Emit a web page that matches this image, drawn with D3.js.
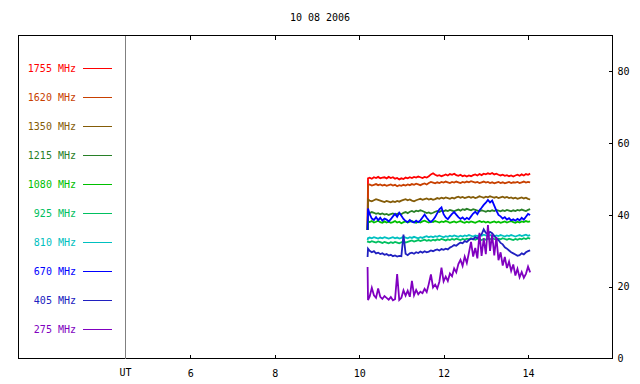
<!DOCTYPE html>
<html>
<head>
<meta charset="utf-8">
<script src="https://cdn.jsdelivr.net/npm/d3@7"></script>
<style>
    body { margin: 0; background: #fff; }
    text { font-family: "DejaVu Sans Mono", "Liberation Mono", monospace; font-size: 10px; }
</style>
</head>
<body>
<svg id="chart" width="640" height="384"></svg>
<script>
/*
    Title and channel names
 */
var title = "10 08 2006";
var channels = ["1755 MHz", "1620 MHz", "1350 MHz", "1215 MHz", "1080 MHz",
                "925 MHz", "810 MHz", "670 MHz", "405 MHz", "275 MHz"];

var hourTicks = [6, 8, 10, 12, 14];
var fluxTicks = [0, 20, 40, 60, 80];

/*
    Sample times (UT hours)
 */
var times = [10.20, 10.21,
    10.25,10.30,10.35,10.40,10.45,10.50,10.55,10.60,10.65,10.70,
    10.75,10.80,10.85,10.90,10.95,11.00,11.05,11.10,11.15,11.20,
    11.25,11.30,11.35,11.40,11.45,11.50,11.55,11.60,11.65,11.70,
    11.75,11.80,11.85,11.90,11.95,12.00,12.05,12.10,12.15,12.20,
    12.25,12.30,12.35,12.40,12.45,12.50,12.55,12.60,12.65,12.70,
    12.75,12.80,12.85,12.90,12.95,13.00,13.05,13.10,13.15,13.20,
    13.25,13.30,13.35,13.40,13.45,13.50,13.55,13.60,13.65,13.70,
    13.75,13.80,13.85,13.90,13.95,14.00,14.05];

/*
    Flux values, one list per channel
 */
var f1755 = [35.8, 50.2,
    50.4,50.1,50.5,50.3,50.6,50.2,50.4,50.5,50.2,50.6,
    50.3,50.5,50.1,50.3,49.9,50.2,50.0,50.4,50.2,50.5,
    50.3,50.6,50.4,50.7,50.5,50.3,50.6,50.4,50.8,51.3,
    51.6,51.2,50.9,51.1,50.8,51.0,51.3,51.0,51.4,51.2,
    51.5,51.1,50.9,51.2,50.8,51.0,50.7,51.0,50.8,51.1,
    51.3,51.0,51.4,51.1,51.5,51.3,51.6,51.4,51.7,51.3,
    51.5,51.2,51.0,51.2,50.9,51.1,50.8,51.0,50.7,51.0,
    51.2,50.9,51.3,51.0,51.4,51.2,51.5];

var f1620 = [35.8, 48.3,
    48.5,48.2,48.4,48.6,48.3,48.5,48.2,48.4,48.1,48.3,
    48.5,48.2,48.4,48.0,48.3,48.1,48.4,48.2,48.5,48.3,
    48.6,48.4,48.7,48.5,48.3,48.6,48.8,48.5,48.9,49.2,
    49.0,48.8,49.1,48.9,49.2,49.0,49.3,49.1,48.9,49.2,
    49.0,49.3,49.1,48.9,49.2,49.0,49.3,49.1,49.4,49.2,
    49.0,49.2,48.9,49.1,49.3,49.0,49.2,48.9,49.1,48.8,
    49.0,49.2,48.9,49.1,48.8,49.0,49.2,48.9,49.1,49.0,
    49.2,48.9,49.1,49.3,49.0,49.2,49.1];

var f1350 = [35.8, 44.3,
    44.0,43.8,44.1,44.4,44.2,44.0,43.8,43.6,43.9,43.7,
    43.5,43.8,43.6,43.9,43.7,44.0,44.2,44.4,44.1,44.3,
    44.0,43.8,44.1,44.3,44.5,44.2,44.4,44.6,44.3,44.5,
    44.2,44.4,44.7,44.5,44.8,44.6,44.9,44.7,44.5,44.8,
    44.6,44.9,45.1,44.8,45.0,44.7,44.9,45.1,44.8,45.0,
    44.7,44.9,45.2,45.0,44.8,45.1,44.9,45.2,45.0,44.8,
    45.0,44.7,44.9,45.1,44.8,45.0,44.7,44.9,44.6,44.8,
    44.5,44.7,44.9,44.6,44.8,44.5,44.3];

var f1215 = [35.8, 40.7,
    40.5,40.8,40.6,40.3,40.5,40.2,40.4,40.1,40.3,40.0,
    40.2,40.4,40.1,40.3,40.5,40.2,40.6,40.8,40.5,40.9,
    41.1,40.8,41.2,41.0,41.3,41.1,40.8,40.5,40.7,40.4,
    40.6,40.9,41.1,40.8,41.2,41.0,41.3,41.1,41.4,41.2,
    41.0,41.3,41.5,41.2,41.6,41.4,41.7,41.5,41.3,41.6,
    41.4,41.2,41.0,41.3,41.1,40.9,41.2,41.0,41.3,41.1,
    41.4,41.2,41.0,41.3,41.1,41.4,41.2,41.0,41.3,41.1,
    41.4,41.2,41.5,41.3,41.1,41.4,41.6];

var f1080 = [35.8, 38.2,
    38.0,38.3,37.9,38.1,38.4,38.0,37.8,38.2,37.9,38.1,
    37.8,38.0,38.3,37.9,38.1,37.7,38.0,38.2,37.9,38.1,
    38.3,38.0,37.8,38.1,37.9,38.2,38.4,38.1,37.9,38.2,
    38.0,38.3,38.1,37.9,38.2,38.0,38.3,38.1,37.8,38.0,
    38.2,37.9,38.1,38.3,38.0,37.8,38.1,37.9,38.2,38.0,
    37.8,38.1,38.3,38.0,38.2,37.9,38.1,37.8,38.0,38.2,
    37.9,38.1,37.8,38.0,38.2,37.9,38.1,38.3,38.0,37.8,
    38.1,37.9,38.2,38.0,38.3,38.1,38.2];

var f925 = [32.3, 32.6,
    32.4,32.7,32.5,32.3,32.6,32.4,32.2,32.5,32.3,32.1,
    32.4,32.2,32.5,32.3,32.1,32.4,32.6,32.3,32.5,32.7,
    32.9,32.6,32.8,33.0,32.7,32.9,33.1,32.8,33.0,32.8,
    33.1,32.9,33.2,33.0,33.3,33.1,32.9,33.2,33.0,33.3,
    33.1,33.4,33.2,33.0,33.3,33.1,33.4,33.2,33.5,33.3,
    33.1,33.4,33.2,33.0,33.3,33.1,33.4,33.2,33.5,33.3,
    33.1,33.4,33.2,33.5,33.3,33.1,33.4,33.2,33.0,33.3,
    33.1,33.4,33.2,33.5,33.3,33.6,33.4];

var f810 = [33.0, 33.5,
    33.7,33.5,33.8,33.6,33.4,33.7,33.5,33.8,33.6,33.4,
    33.6,33.8,33.5,33.7,33.4,33.6,33.9,33.7,33.5,33.8,
    33.6,33.9,33.7,33.5,33.8,33.6,33.9,34.1,33.8,34.0,
    33.8,34.1,33.9,34.2,34.0,33.8,34.1,33.9,34.2,34.0,
    34.3,34.1,33.9,34.2,34.0,34.3,34.1,34.4,34.2,34.0,
    34.3,34.1,34.4,34.2,34.5,34.3,34.1,34.4,34.2,34.0,
    34.3,34.1,34.4,34.2,34.0,34.3,34.1,34.4,34.2,34.0,
    34.2,34.4,34.1,34.3,34.5,34.2,34.4];

var f670 = [35.8, 41.8,
    40.2,39.0,38.6,39.4,38.5,39.2,38.4,39.0,38.7,38.2,
    38.8,39.6,40.3,39.5,40.6,39.8,38.9,38.3,38.0,38.6,
    38.1,37.9,38.4,38.0,38.5,39.3,40.1,39.2,38.5,38.0,
    38.6,39.4,40.5,41.6,42.1,40.2,39.3,38.8,39.6,40.3,
    40.8,40.1,39.4,38.9,39.3,38.7,39.2,38.8,39.6,40.4,
    40.9,40.2,41.3,42.0,42.8,43.4,44.2,43.5,44.0,42.6,
    41.2,40.0,39.6,39.0,39.4,38.7,39.1,38.5,38.8,38.4,
    38.9,38.5,39.2,38.7,39.5,40.3,40.0];

var f405 = [28.3, 30.6,
    30.0,29.6,29.9,29.3,29.5,29.1,29.3,28.9,29.1,28.7,
    28.9,28.5,28.7,28.4,28.6,28.5,34.5,29.2,28.8,29.3,
    29.5,29.2,29.6,29.4,29.8,29.5,29.9,29.6,29.8,30.1,
    29.9,30.2,30.4,30.1,30.5,30.3,30.6,30.4,30.9,31.2,
    31.6,31.4,31.9,32.3,32.1,32.7,32.5,33.0,33.4,33.2,
    33.8,33.5,34.1,34.6,36.0,35.0,34.7,35.3,34.9,34.2,
    33.5,33.0,32.2,31.8,31.0,30.6,30.1,29.6,29.3,29.0,
    28.6,28.8,29.3,29.0,29.6,29.9,30.1];

var f275 = [25.5, 16.3,
    17.3,19.7,17.6,16.9,19.5,17.2,16.6,17.4,16.9,16.4,
    17.1,16.2,16.5,23.5,16.3,16.9,19.0,17.5,18.9,17.2,
    21.6,17.6,19.1,17.9,18.6,18.2,19.4,18.5,20.8,23.4,
    19.8,20.6,19.5,21.4,25.3,21.5,22.8,21.6,23.7,22.9,
    25.1,24.0,26.3,27.5,25.8,28.4,26.6,29.5,32.5,28.4,
    30.8,27.9,35.0,28.6,33.5,29.1,37.2,30.0,34.6,28.7,
    33.8,27.4,29.6,25.9,28.3,25.2,27.0,24.4,26.2,23.1,
    25.0,22.6,24.1,22.5,23.6,25.6,24.0];

var fluxes = [f1755, f1620, f1350, f1215, f1080, f925, f810, f670, f405, f275];

var colors = ["#ff0000", "#c84000", "#845c08", "#288028", "#00c000",
              "#00c060", "#00c0c0", "#0000ff", "#2020c0", "#8000c0"];

var svg = d3.select("#chart");

var plotLeft = 18.5, plotRight = 612.5, plotTop = 35.5, plotBottom = 358.5;

var x = d3.scaleLinear().domain([1.933, 16]).range([plotLeft, plotRight]);
var y = d3.scaleLinear().domain([0, 90]).range([plotBottom, plotTop]);

/*
    Title
 */
svg.append("text")
    .attr("x", 320)
    .attr("y", 21)
    .attr("text-anchor", "middle")
    .text(title);

/*
    Frame
 */
svg.append("rect")
    .attr("x", plotLeft)
    .attr("y", plotTop)
    .attr("width", plotRight - plotLeft)
    .attr("height", plotBottom - plotTop)
    .attr("fill", "none")
    .attr("stroke", "#000");

/*
    Separator between legend and plot, with the UT label
 */
var utHour = 4.47;
svg.append("line")
    .attr("x1", x(utHour)).attr("x2", x(utHour))
    .attr("y1", plotTop).attr("y2", plotBottom)
    .attr("stroke", "#808080")
    .attr("shape-rendering", "crispEdges");

svg.append("text")
    .attr("x", x(utHour))
    .attr("y", 376)
    .attr("text-anchor", "middle")
    .text("UT");

/*
    Axes: ticks point into the frame
 */
var styleAxis = function (g) {
    g.select(".domain").remove();
    g.selectAll("line").attr("stroke", "#000").attr("shape-rendering", "crispEdges");
    g.selectAll("text").attr("fill", "#000").style("font-size", "10px")
        .style("font-family", "\"DejaVu Sans Mono\", monospace");
};

svg.append("g")
    .attr("transform", "translate(0," + plotBottom + ")")
    .call(d3.axisBottom(x).tickValues(hourTicks).tickSize(-4).tickPadding(11))
    .call(styleAxis);

svg.append("g")
    .attr("transform", "translate(0," + plotTop + ")")
    .call(d3.axisTop(x).tickValues(hourTicks).tickSize(-4).tickFormat(""))
    .call(styleAxis);

svg.append("g")
    .attr("transform", "translate(" + plotRight + ",0)")
    .call(d3.axisRight(y).tickValues(fluxTicks).tickSize(-4).tickPadding(5))
    .call(styleAxis)
    .selectAll(".tick line")
    .attr("display", function (d) { return d === 0 ? "none" : null; });

/*
    Legend
 */
var legend = svg.selectAll(".legend")
    .data(channels)
    .enter().append("g")
    .attr("class", "legend")
    .attr("transform", function (d, i) {
        return "translate(0," + (68 + i * 29) + ")";
    });

legend.append("text")
    .attr("x", 76)
    .attr("dy", "0.35em")
    .attr("text-anchor", "end")
    .attr("fill", function (d, i) { return colors[i]; })
    .text(function (d) { return d; });

legend.append("line")
    .attr("x1", 83).attr("x2", 112)
    .attr("y1", 0.5).attr("y2", 0.5)
    .attr("shape-rendering", "crispEdges")
    .attr("stroke", function (d, i) { return colors[i]; });

/*
    Traces
 */
var line = d3.line()
    .x(function (d, i) { return x(times[i]); })
    .y(function (d) { return y(d); });

svg.selectAll(".trace")
    .data(fluxes)
    .enter().append("path")
    .attr("class", "trace")
    .attr("d", line)
    .attr("fill", "none")
    .attr("stroke-width", 1.8)
    .attr("stroke", function (d, i) { return colors[i]; });
</script>
</body>
</html>
